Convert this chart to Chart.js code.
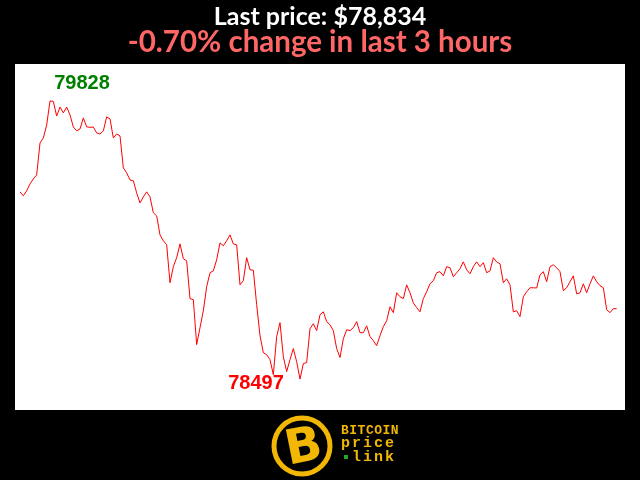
<!DOCTYPE html>
<html>
<head>
<meta charset="utf-8">
<script src="https://cdn.jsdelivr.net/npm/chart.js@4/dist/chart.umd.min.js"></script>
<style>
  html, body { margin: 0; padding: 0; background: #000; }
  #wrap { width: 640px; height: 480px; }
</style>
</head>
<body>
<div id="wrap"><canvas id="btc-chart" width="640" height="480"></canvas></div>
<script>
// BTC price, one point per minute over the last 3 hours
const minutes = Array.from({ length: 180 }, (_, i) => i);
const prices = [
    79393, 79374, 79398, 79431, 79455, 79474, 79627, 79651, 79713, 79828,
    79826, 79756, 79799, 79771, 79799, 79761, 79704, 79685, 79694, 79747,
    79704, 79702, 79703, 79675, 79670, 79685, 79752, 79742, 79651, 79670,
    79661, 79508, 79484, 79450, 79446, 79388, 79340, 79369, 79393, 79369,
    79293, 79278, 79187, 79159, 79140, 78958, 79035, 79078, 79144, 79073,
    79063, 78882, 78877, 78662, 78743, 78824, 78939, 79006, 79015, 79068,
    79149, 79135, 79159, 79187, 79144, 79140, 78948, 78968, 79078, 79020,
    79018, 78853, 78705, 78623, 78614, 78590, 78518, 78700, 78767, 78604,
    78533, 78590, 78643, 78580, 78497, 78571, 78576, 78738, 78762, 78729,
    78805, 78819, 78772, 78757, 78729, 78643, 78600, 78690, 78733, 78729,
    78743, 78772, 78719, 78719, 78752, 78700, 78681, 78657, 78705, 78748,
    78776, 78843, 78815, 78910, 78891, 78882, 78948, 78910, 78862, 78839,
    78819, 78882, 78915, 78953, 78968, 79006, 79011, 78991, 79035, 79030,
    78987, 79006, 79025, 79058, 79020, 79001, 79035, 79058, 79035, 79054,
    79006, 79015, 79078, 79058, 79049, 78958, 78977, 78948, 78819, 78824,
    78796, 78891, 78915, 78934, 78934, 78933, 78996, 79011, 78963, 79035,
    79044, 79030, 79011, 78920, 78934, 78963, 78991, 78905, 78910, 78953,
    78910, 78953, 78991, 78963, 78944, 78934, 78829, 78815, 78834, 78834
];
const titleText = 'Last price: $78,834';
const subtitleText = '-0.70% change in last 3 hours';
const logoLines = ['BITCOIN', 'price', 'link'];

const maxIdx = prices.indexOf(Math.max(...prices));
const minIdx = prices.indexOf(Math.min(...prices));

// white plot background + headings + high/low labels + logo
const decorPlugin = {
    id: 'decor',
    beforeDraw(chart) {
        const ctx = chart.ctx;
        const a = chart.chartArea;
        ctx.save();
        ctx.fillStyle = '#000000';
        ctx.fillRect(0, 0, chart.width, chart.height);
        ctx.fillStyle = '#ffffff';
        ctx.fillRect(a.left, a.top, a.right - a.left, a.bottom - a.top);
        ctx.restore();
    },
    afterDraw(chart) {
        const ctx = chart.ctx;
        const xs = chart.scales.x, ys = chart.scales.y;
        ctx.save();
        ctx.textAlign = 'center';
        ctx.textBaseline = 'alphabetic';

        ctx.fillStyle = '#ffffff';
        ctx.font = 'bold 25px Lato';
        ctx.fillText(titleText, 320, 25);
        ctx.fillStyle = '#ff6666';
        ctx.font = 'bold 29.5px Lato';
        ctx.fillText(subtitleText, 320, 52);

        // high / low
        ctx.textBaseline = 'middle';
        ctx.font = 'bold 20px "Liberation Sans"';
        ctx.fillStyle = '#008000';
        ctx.fillText(String(prices[maxIdx]), xs.getPixelForValue(maxIdx) + 32, ys.getPixelForValue(prices[maxIdx]) - 17);
        ctx.fillStyle = '#ff0000';
        ctx.fillText(String(prices[minIdx]), xs.getPixelForValue(minIdx) - 44, ys.getPixelForValue(prices[minIdx]) + 4);

        // logo
        const gold = '#f2b705';
        ctx.strokeStyle = gold;
        ctx.lineWidth = 5;
        ctx.beginPath();
        ctx.arc(302, 446, 28, 0, Math.PI * 2);
        ctx.stroke();
        ctx.fillStyle = gold;
        ctx.font = 'bold 48px "DejaVu Sans"';
        ctx.translate(304, 449);
        ctx.rotate(-0.2);
        ctx.fillText('B', 0, 0);
        ctx.setTransform(1, 0, 0, 1, 0, 0);

        ctx.textAlign = 'left';
        ctx.textBaseline = 'alphabetic';
        ctx.letterSpacing = '0.5px';
        ctx.font = 'bold 13px "Liberation Mono"';
        ctx.fillText(logoLines[0], 341, 434);
        ctx.letterSpacing = '2px';
        ctx.font = 'bold 15px "Liberation Mono"';
        ctx.fillText(logoLines[1], 341, 447);
        ctx.fillText(logoLines[2], 352, 461);
        ctx.fillStyle = '#1faa1f';
        ctx.fillRect(344, 455, 4, 4);
        ctx.restore();
    }
};

new Chart(document.getElementById('btc-chart'), {
    type: 'line',
    data: {
        labels: minutes,
        datasets: [{
            data: prices,
            borderColor: '#ff0000',
            borderWidth: 1,
            pointRadius: 0,
            tension: 0,
            fill: false
        }]
    },
    options: {
        responsive: false,
        animation: false,
        layout: { padding: { top: 64, left: 15, right: 15, bottom: 70 } },
        scales: {
            x: { type: 'linear', min: -1.5, max: 181.5, display: false },
            y: { min: 78349, max: 80005, display: false }
        },
        plugins: {
            legend: { display: false },
            tooltip: { enabled: false },
            title: { display: false }
        }
    },
    plugins: [decorPlugin]
});
</script>
</body>
</html>
